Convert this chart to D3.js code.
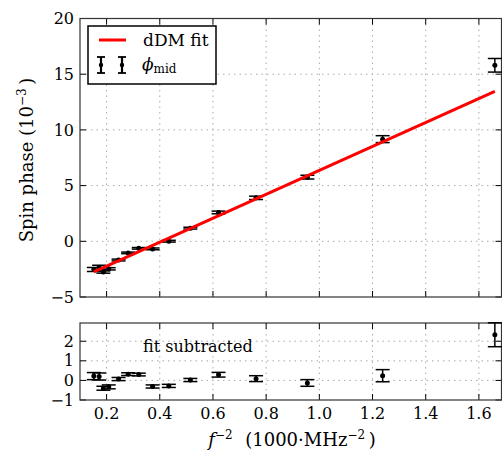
<!DOCTYPE html>
<html>
<head>
<meta charset="utf-8">
<script src="https://cdn.jsdelivr.net/npm/d3@7"></script>
<style>
body { margin: 0; background: #fff; }
text { font-family: "DejaVu Serif", serif; fill: #000; }
</style>
</head>
<body>
<svg id="chart" width="502" height="453"></svg>
<script>
// f^-2 values (1000 MHz^-2)
const freqX = [0.152, 0.172, 0.188, 0.208, 0.245, 0.281, 0.321, 0.373, 0.434, 0.515, 0.621, 0.762, 0.955, 1.238, 1.66]
// spin phase, 10^-3
const phaseMid = [-2.53, -2.33, -2.76, -2.47, -1.68, -1.04, -0.63, -0.68, 0.01, 1.18, 2.59, 3.90, 5.76, 9.17, 15.8]
const phaseErr = [0.18, 0.18, 0.1, 0.1, 0.08, 0.07, 0.07, 0.08, 0.08, 0.08, 0.12, 0.15, 0.17, 0.31, 0.61]
// residuals after the fit
const residual = [0.22, 0.2, -0.4, -0.33, 0.07, 0.32, 0.3, -0.31, -0.28, 0.02, 0.29, 0.09, -0.13, 0.24, 2.33]
// dDM fit line ends
const fitX = [0.152, 1.66]
const fitY = [-2.746, 13.465]

const xTicks = [0.2, 0.4, 0.6, 0.8, 1.0, 1.2, 1.4, 1.6]
const topTicks = [-5, 0, 5, 10, 15, 20]
const botTicks = [-1, 0, 1, 2]

const svg = d3.select("#chart")

const left = 80, right = 501.5
const x = d3.scaleLinear().domain([0.1, 1.685]).range([left, right])
const yTop = d3.scaleLinear().domain([-5, 20]).range([297, 18.5])
const yBot = d3.scaleLinear().domain([-1, 2.93]).range([400, 323])

const cap = 7

function panel(y, yTicks, g) {
    let top = y.range()[1], bottom = y.range()[0]
    // grid
    g.selectAll(".gx").data(xTicks).enter().append("line")
        .attr("x1", d => x(d)).attr("x2", d => x(d))
        .attr("y1", top).attr("y2", bottom)
        .attr("stroke", "#aaa").attr("stroke-width", 1).attr("stroke-dasharray", "1.5,4")
    g.selectAll(".gy").data(yTicks.filter(d => y(d) > top + 1 && y(d) < bottom - 1)).enter().append("line")
        .attr("x1", left).attr("x2", right)
        .attr("y1", d => y(d)).attr("y2", d => y(d))
        .attr("stroke", "#aaa").attr("stroke-width", 1).attr("stroke-dasharray", "1.5,4")
    // ticks inward on all sides
    xTicks.forEach(t => {
        g.append("line").attr("x1", x(t)).attr("x2", x(t)).attr("y1", bottom).attr("y2", bottom - 6)
            .attr("stroke", "#000").attr("stroke-width", 1)
        g.append("line").attr("x1", x(t)).attr("x2", x(t)).attr("y1", top).attr("y2", top + 6)
            .attr("stroke", "#000").attr("stroke-width", 1)
    })
    yTicks.forEach(t => {
        g.append("line").attr("x1", left).attr("x2", left + 6).attr("y1", y(t)).attr("y2", y(t))
            .attr("stroke", "#000").attr("stroke-width", 1)
        g.append("line").attr("x1", right).attr("x2", right - 6).attr("y1", y(t)).attr("y2", y(t))
            .attr("stroke", "#000").attr("stroke-width", 1)
        g.append("text").attr("x", left - 6).attr("y", y(t)).attr("dy", "0.35em")
            .attr("text-anchor", "end").attr("font-size", 16)
            .text(d3.format("")(t).replace("-", "\u2212"))
    })
    g.append("rect").attr("x", left).attr("y", top).attr("width", right - left).attr("height", bottom - top)
        .attr("fill", "none").attr("stroke", "#333").attr("stroke-width", 1.2)
}

function errorBars(g, y, vals) {
    let pts = freqX.map((d, i) => ({x: d, v: vals[i], e: phaseErr[i]}))
    let eg = g.selectAll(".eb").data(pts).enter().append("g")
    eg.append("line").attr("x1", d => x(d.x)).attr("x2", d => x(d.x))
        .attr("y1", d => y(d.v - d.e)).attr("y2", d => y(d.v + d.e))
        .attr("stroke", "#000").attr("stroke-width", 1.5)
    eg.append("line").attr("x1", d => x(d.x) - cap).attr("x2", d => x(d.x) + cap)
        .attr("y1", d => y(d.v - d.e)).attr("y2", d => y(d.v - d.e))
        .attr("stroke", "#000").attr("stroke-width", 1.5)
    eg.append("line").attr("x1", d => x(d.x) - cap).attr("x2", d => x(d.x) + cap)
        .attr("y1", d => y(d.v + d.e)).attr("y2", d => y(d.v + d.e))
        .attr("stroke", "#000").attr("stroke-width", 1.5)
    eg.append("circle").attr("cx", d => x(d.x)).attr("cy", d => y(d.v)).attr("r", 2.5).attr("fill", "#000")
}

const gTop = svg.append("g")
const gBot = svg.append("g")
panel(yTop, topTicks, gTop)
panel(yBot, botTicks, gBot)

errorBars(gTop, yTop, phaseMid)
gTop.append("line")
    .attr("x1", x(fitX[0])).attr("y1", yTop(fitY[0]))
    .attr("x2", x(fitX[1])).attr("y2", yTop(fitY[1]))
    .attr("stroke", "#f00").attr("stroke-width", 3)

errorBars(gBot, yBot, residual)

// x tick labels
xTicks.forEach(t => {
    svg.append("text").attr("x", x(t)).attr("y", 419).attr("text-anchor", "middle")
        .attr("font-size", 16).text(d3.format(".1f")(t))
})

// legend
let lg = svg.append("g")
lg.append("rect").attr("x", 88).attr("y", 26).attr("width", 128).attr("height", 58)
    .attr("fill", "#fff").attr("stroke", "#000").attr("stroke-width", 1.5)
lg.append("line").attr("x1", 99).attr("x2", 126).attr("y1", 40).attr("y2", 40)
    .attr("stroke", "#f00").attr("stroke-width", 3)
lg.append("text").attr("x", 143).attr("y", 46).attr("font-size", 17).text("dDM fit")
;[101, 122].forEach(cx => {
    lg.append("line").attr("x1", cx).attr("x2", cx).attr("y1", 57).attr("y2", 73)
        .attr("stroke", "#000").attr("stroke-width", 2.2)
    lg.append("line").attr("x1", cx - 4).attr("x2", cx + 4).attr("y1", 57).attr("y2", 57)
        .attr("stroke", "#000").attr("stroke-width", 1.8)
    lg.append("line").attr("x1", cx - 4).attr("x2", cx + 4).attr("y1", 73).attr("y2", 73)
        .attr("stroke", "#000").attr("stroke-width", 1.8)
    lg.append("circle").attr("cx", cx).attr("cy", 65).attr("r", 2.2).attr("fill", "#000")
})
let phi = lg.append("text").attr("x", 142).attr("y", 70).attr("font-size", 17)
phi.append("tspan").attr("font-style", "italic").text("\u03d5")
phi.append("tspan").attr("font-size", 12).attr("dy", 3).text("mid")

// fit subtracted label
svg.append("text").attr("x", 143).attr("y", 352).attr("font-size", 16).text("fit subtracted")

// y axis title
let yt = svg.append("text").attr("transform", "translate(33,160) rotate(-90)")
    .attr("text-anchor", "middle").attr("font-size", 18)
yt.append("tspan").text("Spin phase (10")
yt.append("tspan").attr("font-size", 12).attr("dy", -7).text("\u22123")
yt.append("tspan").attr("dy", 7).text("\u2009)")

// x axis title
let xt = svg.append("text").attr("x", 292).attr("y", 446).attr("text-anchor", "middle").attr("font-size", 18)
xt.append("tspan").attr("font-style", "italic").text("f")
xt.append("tspan").attr("font-size", 12).attr("dy", -7).text("\u22122")
xt.append("tspan").attr("dy", 7).text("\u2002\u2009(1000\u00b7MHz")
xt.append("tspan").attr("font-size", 12).attr("dy", -7).text("\u22122")
xt.append("tspan").attr("dy", 7).text("\u2009)")
</script>
</body>
</html>
